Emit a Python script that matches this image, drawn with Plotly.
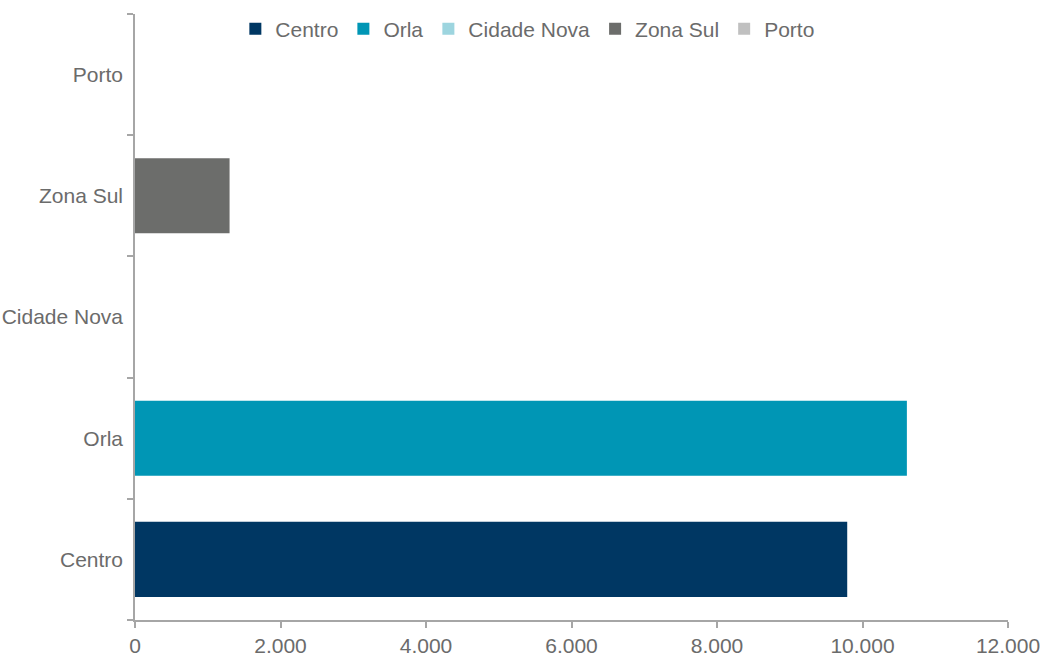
import plotly.graph_objects as go

categories = ["Centro", "Orla", "Cidade Nova", "Zona Sul", "Porto"]
values = [9790, 10610, 0, 1300, 0]
colors = ["#003763", "#0096B5", "#9DD5DF", "#6C6D6B", "#C0C0C0"]
x_ticks = [0, 2000, 4000, 6000, 8000, 10000, 12000]

fig = go.Figure()
for cat, val, col in zip(categories, values, colors):
    fig.add_trace(go.Bar(
        y=[cat], x=[val], name=cat, orientation="h",
        marker=dict(color=col, line=dict(width=0)),
        width=0.62,
    ))

font_col = "#6B6B6B"
axis_col = "#A6A6A6"
fs = 21
fig.update_layout(
    width=1044, height=657,
    margin=dict(l=135, r=36, t=14, b=37, autoexpand=False),
    paper_bgcolor="white", plot_bgcolor="white",
    barmode="overlay",
    separators=",.",
    font=dict(family="Liberation Sans, Arial, sans-serif", size=fs, color=font_col),
    showlegend=True,
    legend=dict(orientation="h", x=0.45, xanchor="center", y=0.975, yanchor="middle",
                font=dict(size=fs, color=font_col), itemwidth=30,
                bgcolor="rgba(0,0,0,0)", traceorder="normal"),
    xaxis=dict(range=[0, 12000], tickvals=x_ticks, tickformat=",d", automargin=False,
               showgrid=False, zeroline=False, showline=True, linecolor=axis_col, linewidth=1.5,
               ticks="outside", ticklen=6, tickcolor=axis_col, tickwidth=1.5,
               tickfont=dict(size=fs, color=font_col)),
    yaxis=dict(categoryorder="array", categoryarray=categories, tickson="boundaries",
               automargin=False,
               showgrid=False, zeroline=False, showline=True, linecolor=axis_col, linewidth=1.5,
               ticks="outside", ticklen=6, tickcolor=axis_col, tickwidth=1.5,
               tickfont=dict(size=fs, color=font_col), ticklabelstandoff=6),
)

fig.write_html("out.html", config={"displayModeBar": False},
               post_script="document.body.style.margin='0';document.body.style.overflow='hidden';")
